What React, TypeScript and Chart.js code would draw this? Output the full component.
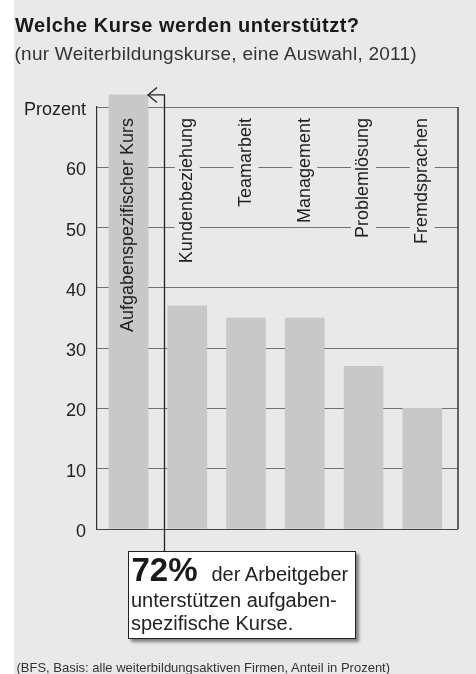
import React, { useEffect, useRef } from "react";
import { Chart, registerables } from "chart.js";

Chart.register(...registerables);

// ---- data ----
const categories = [
  "Aufgabenspezifischer Kurs",
  "Kundenbeziehung",
  "Teamarbeit",
  "Management",
  "Problemlösung",
  "Fremdsprachen",
];
const values = [72, 37, 35, 35, 27, 20];
const yMin = 0;
const yMax = 70;
const yStep = 10;
const topTickLabel = "Prozent";

const titleText = "Welche Kurse werden unterstützt?";
const subtitleText = "(nur Weiterbildungskurse, eine Auswahl, 2011)";
const footerText = "(BFS, Basis: alle weiterbildungsaktiven Firmen, Anteil in Prozent)";
const calloutBig = "72%";
const calloutLines = ["der Arbeitgeber", "unterstützen aufgaben-", "spezifische Kurse."];

// ---- styles ----
const FONT = '"Liberation Sans", Arial, Helvetica, sans-serif';
const BG = "#e9e9e9";
const BAR = "#c8c8c8";
const INK = "#222222";
const GRID = "#707070";

const overlayPlugin = {
  id: "overlay",
  beforeDatasetsDraw(chart: any) {
    const { ctx, chartArea, scales } = chart;
    ctx.save();
    ctx.font = `18px ${FONT}`;
    categories.forEach((c, i) => {
      const x = scales.x.getPixelForValue(i);
      const w = ctx.measureText(c).width;
      const top = chartArea.top + 11;
      ctx.fillStyle = BG;
      ctx.fillRect(x - 12.5, top - 4, 25, w + 8);
    });
    ctx.restore();
  },
  afterDatasetsDraw(chart: any) {
    const { ctx, chartArea, scales } = chart;
    ctx.save();
    // right frame
    ctx.strokeStyle = "#333";
    ctx.lineWidth = 1.5;
    ctx.beginPath();
    ctx.moveTo(chartArea.right, chartArea.top);
    ctx.lineTo(chartArea.right, chartArea.bottom);
    ctx.stroke();

    // category labels (rotated)
    ctx.font = `18px ${FONT}`;
    ctx.fillStyle = INK;
    categories.forEach((c, i) => {
      const x = scales.x.getPixelForValue(i);
      const top = chartArea.top + 11;
      ctx.save();
      ctx.translate(x, top);
      ctx.rotate(-Math.PI / 2);
      ctx.textAlign = "right";
      ctx.textBaseline = "middle";
      ctx.fillText(c, 0, 0);
      ctx.restore();
    });

    // callout connector with arrow to the first bar
    const bar = chart.getDatasetMeta(0).data[0];
    const tipX = bar.x + bar.width / 2;
    const tipY = bar.y;
    const lineX = tipX + 16.5;
    const endY = chartArea.bottom + 22;
    ctx.strokeStyle = INK;
    ctx.lineWidth = 1.3;
    ctx.beginPath();
    ctx.moveTo(tipX, tipY);
    ctx.lineTo(lineX, tipY);
    ctx.lineTo(lineX, endY);
    ctx.stroke();
    ctx.beginPath();
    ctx.moveTo(tipX + 9, tipY - 7.5);
    ctx.lineTo(tipX, tipY);
    ctx.lineTo(tipX + 9, tipY + 7.5);
    ctx.stroke();
    ctx.restore();
  },
};

export default function App() {
  const ref = useRef<HTMLCanvasElement>(null);

  useEffect(() => {
    document.body.style.margin = "0";
    const chart = new Chart(ref.current as HTMLCanvasElement, {
      type: "bar",
      data: {
        datasets: [
          {
            data: values.map((v, i) => ({ x: i, y: v })),
            backgroundColor: BAR,
            borderWidth: 0,
            barThickness: 39,
            clip: false as any,
          },
        ],
      },
      options: {
        responsive: false,
        animation: false,
        events: [],
        layout: { padding: { top: 107, right: 18, bottom: 145, left: 0 } },
        plugins: {
          legend: { display: false },
          tooltip: { enabled: false },
          title: { display: false },
        },
        scales: {
          x: {
            type: "linear",
            display: false,
            min: -0.536,
            max: 5.608,
            offset: false,
          },
          y: {
            min: yMin,
            max: yMax,
            afterFit(scale: any) {
              scale.width = 97;
            },
            ticks: {
              stepSize: yStep,
              padding: 11,
              labelOffset: 3,
              color: INK,
              font: { family: FONT, size: 18 },
              callback: (v: any) => (Number(v) === yMax ? topTickLabel : String(v)),
            },
            grid: {
              drawTicks: false,
              color: (c: any) => (c.tick && c.tick.value === 0 ? "#444" : GRID),
              lineWidth: 1,
            },
            border: { display: true, color: "#333", width: 1.2 },
          },
        },
      },
      plugins: [overlayPlugin],
    });
    return () => chart.destroy();
  }, []);

  const abs: React.CSSProperties = { position: "absolute", whiteSpace: "nowrap" };

  return (
    <div
      style={{
        position: "relative",
        width: 476,
        height: 674,
        overflow: "hidden",
        fontFamily: FONT,
        color: INK,
        background: "#fff",
      }}
    >
      <div style={{ position: "absolute", left: 14, top: 0, width: 462, height: 674, background: BG }} />
      <canvas ref={ref} width={476} height={674} style={{ position: "absolute", left: 0, top: 0 }} />
      <div
        style={{
          ...abs,
          left: 15,
          top: 15,
          fontSize: 20,
          lineHeight: "20px",
          fontWeight: 700,
          letterSpacing: "0.5px",
          color: "#1a1a1a",
        }}
      >
        {titleText}
      </div>
      <div style={{ ...abs, left: 14.5, top: 44, fontSize: 19, lineHeight: "19px", letterSpacing: "0.25px", color: "#333" }}>
        {subtitleText}
      </div>
      <div
        style={{
          position: "absolute",
          left: 128,
          top: 551,
          width: 228,
          height: 88,
          boxSizing: "border-box",
          border: "1.5px solid #222",
          background: "#fff",
          boxShadow: "3px 3px 3px rgba(0,0,0,0.45)",
        }}
      />
      <div style={{ ...abs, left: 131.5, top: 553, fontSize: 33, lineHeight: "33px", fontWeight: 700, color: "#1a1a1a" }}>
        {calloutBig}
      </div>
      <div style={{ ...abs, left: 211.5, top: 564, fontSize: 20, lineHeight: "20px" }}>{calloutLines[0]}</div>
      <div style={{ ...abs, left: 131, top: 590, fontSize: 20, lineHeight: "20px" }}>{calloutLines[1]}</div>
      <div style={{ ...abs, left: 131, top: 613, fontSize: 20, lineHeight: "20px" }}>{calloutLines[2]}</div>
      <div style={{ ...abs, left: 16.5, top: 661, fontSize: 13, lineHeight: "13px", color: "#333" }}>{footerText}</div>
    </div>
  );
}
